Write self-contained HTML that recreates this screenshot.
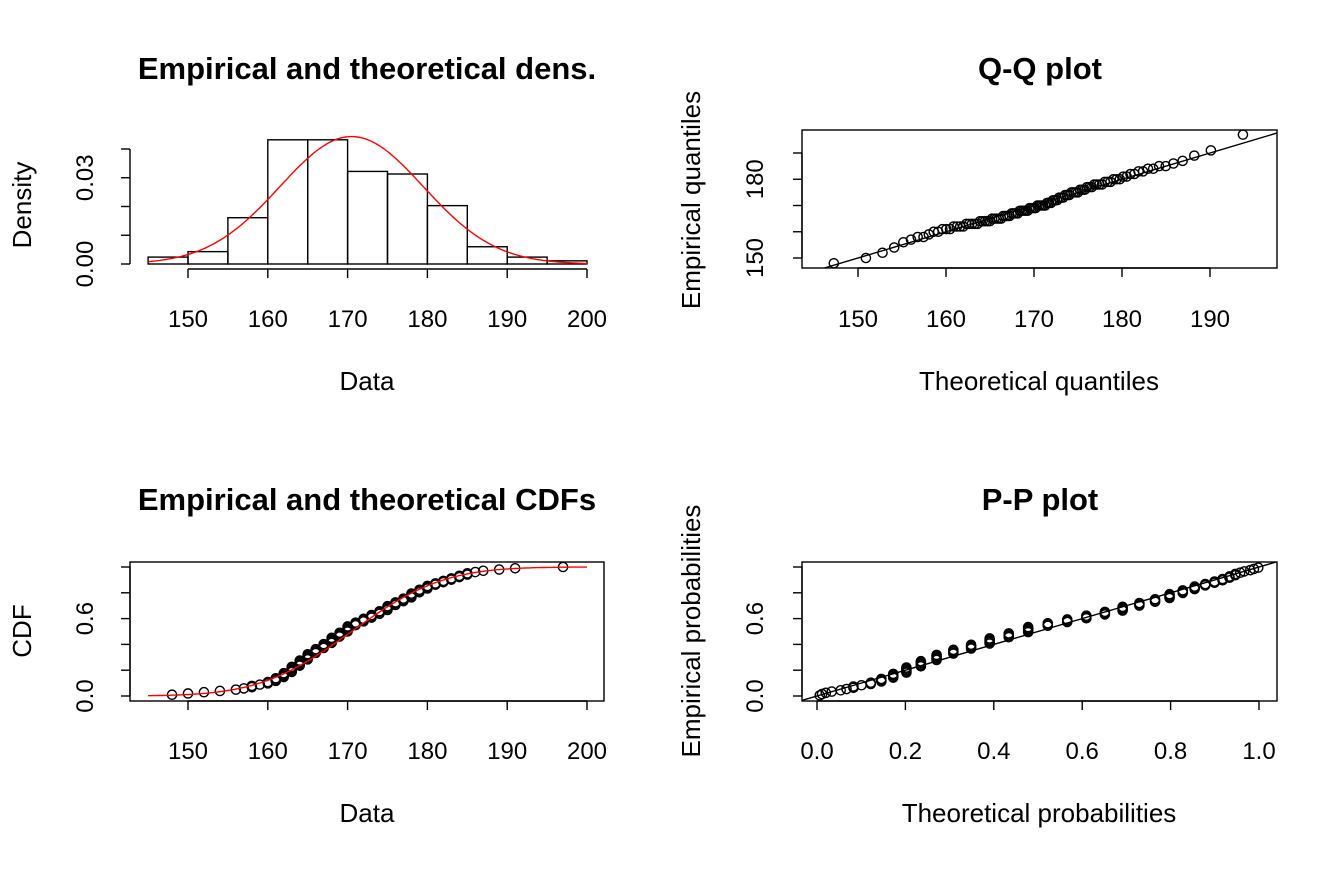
<!DOCTYPE html>
<html><head><meta charset="utf-8"><style>
body{margin:0;background:#fff;}
svg text{font-family:"Liberation Sans",Arial,sans-serif;fill:#000;}
.t{font-size:31px;font-weight:bold;text-anchor:middle;}
.l{font-size:26px;text-anchor:middle;}
.k{font-size:24px;text-anchor:middle;}
</style></head><body>
<svg id="c" width="1344" height="864" xmlns="http://www.w3.org/2000/svg"></svg>
<script>
const binEdges=[145,150,155,160,165,170,175,180,185,190,195,200];
const binDensity=[0.0024,0.0043,0.0161,0.0432,0.0432,0.0322,0.0313,0.0203,0.0060,0.0024,0.0011];
const sampleData=[148,150,152,154,156,157,158,158,159,160,160,
161,161,161,162,162,162,162,163,163,163,163,163,164,164,164,164,164,165,165,165,165,165,
166,166,166,166,167,167,167,167,168,168,168,168,168,169,169,169,169,170,170,170,170,170,
171,171,171,172,172,172,173,173,173,174,174,174,175,175,175,175,
176,176,176,177,177,177,178,178,178,178,179,179,179,180,180,180,
181,181,182,182,183,183,184,184,185,185,186,187,189,191,197];
const fitMean=[170.5];
const fitSd=[9.0];
const densTicks=[0,0.01,0.02,0.03,0.04];
const densTickLabels=["0.00","","","0.03",""];
const dataTicks=[150,160,170,180,190,200];
const qqTicks=[150,160,170,180,190];
const qqYLabels=["150","","","180",""];
const probTicks=[0,0.2,0.4,0.6,0.8,1.0];
const probYLabels=["0.0","","","0.6","",""];
const probXLabels=["0.0","0.2","0.4","0.6","0.8","1.0"];

const svg=document.getElementById('c');const NS='http://www.w3.org/2000/svg';
function el(tag,at,txt){const e=document.createElementNS(NS,tag);for(const k in at)e.setAttribute(k,at[k]);if(txt!==undefined)e.textContent=txt;svg.appendChild(e);return e;}
function lin(d0,d1,r0,r1){return v=>r0+(v-d0)/(d1-d0)*(r1-r0);}
function erf(x){const s=Math.sign(x);x=Math.abs(x);const t=1/(1+0.3275911*x);const y=1-(((((1.061405429*t-1.453152027)*t)+1.421413741)*t-0.284496736)*t+0.254829592)*t*Math.exp(-x*x);return s*y;}
function pnorm(x,m,s){return 0.5*(1+erf((x-m)/(s*Math.SQRT2)));}
function dnorm(x,m,s){return Math.exp(-0.5*((x-m)/s)**2)/(s*Math.sqrt(2*Math.PI));}
function qnorm(p,m,s){const a=[-39.69683028665376,220.9460984245205,-275.9285104469687,138.3577518672690,-30.66479806614716,2.506628277459239],b=[-54.47609879822406,161.5858368580409,-155.6989798598866,66.80131188771972,-13.28068155288572],c=[-0.007784894002430293,-0.3223964580411365,-2.400758277161838,-2.549732539343734,4.374664141464968,2.938163982698783],d=[0.007784695709041462,0.3224671290700398,2.445134137142996,3.754408661907416];let q,r,z;
if(p<0.02425){q=Math.sqrt(-2*Math.log(p));z=(((((c[0]*q+c[1])*q+c[2])*q+c[3])*q+c[4])*q+c[5])/((((d[0]*q+d[1])*q+d[2])*q+d[3])*q+1);}
else if(p>1-0.02425){q=Math.sqrt(-2*Math.log(1-p));z=-(((((c[0]*q+c[1])*q+c[2])*q+c[3])*q+c[4])*q+c[5])/((((d[0]*q+d[1])*q+d[2])*q+d[3])*q+1);}
else{q=p-0.5;r=q*q;z=(((((a[0]*r+a[1])*r+a[2])*r+a[3])*r+a[4])*r+a[5])*q/(((((b[0]*r+b[1])*r+b[2])*r+b[3])*r+b[4])*r+1);}
return m+s*z;}
const M=fitMean[0],S=fitSd[0],n=sampleData.length;
const ST={stroke:'#000','stroke-width':1.4,fill:'none'};

function xAxis(ticks,labels,sx,y,name,ly){el('line',Object.assign({x1:sx(ticks[0]),x2:sx(ticks[ticks.length-1]),y1:y,y2:y},ST));
 ticks.forEach((t,i)=>{el('line',Object.assign({x1:sx(t),x2:sx(t),y1:y,y2:y+9},ST));
 const tx=el('text',{x:sx(t),y:ly,class:'k'},labels[i]);});}
function yAxis(ticks,labels,sy,x,name,lx){el('line',Object.assign({x1:x,x2:x,y1:sy(ticks[0]),y2:sy(ticks[ticks.length-1])},ST));
 ticks.forEach((t,i)=>{el('line',Object.assign({x1:x,x2:x-9,y1:sy(t),y2:sy(t)},ST));
 if(labels[i]){const tx=el('text',{x:lx,y:sy(t),class:'k',transform:`rotate(-90 ${lx} ${sy(t)})`},labels[i]);}});}
function txt(x,y,s,cls,name,rot){const a={x:x,y:y,class:cls};if(rot)a.transform=`rotate(-90 ${x} ${y})`;const t=el('text',a,s);}
function circ(x,y,name){const c=el('circle',{cx:x,cy:y,r:4.6,stroke:'#000','stroke-width':1.4,fill:'none'});}

{const sx=lin(150,200,188,587),sy=lin(0,0.04,264,149);
 binDensity.forEach((d,i)=>{const r=el('rect',Object.assign({x:sx(binEdges[i]),y:sy(d),width:sx(binEdges[i+1])-sx(binEdges[i]),height:sy(0)-sy(d)},ST));});
 let p='';for(let v=145;v<=200;v+=0.25){p+=(p?'L':'M')+sx(v).toFixed(1)+','+sy(dnorm(v,M,S)).toFixed(1);}
 const pl=el('path',{d:p,stroke:'#f00','stroke-width':1.4,fill:'none'});
 xAxis(dataTicks,dataTicks.map(String),sx,269,'density-x-axis',327);
 yAxis(densTicks,densTickLabels,sy,130,'density-y-axis',93);
 txt(367,79,'Empirical and theoretical dens.','t','density-title');
 txt(367,390,'Data','l','density-x-title');txt(31,205,'Density','l','density-y-title',1);}
{const sx=lin(150,190,858,1210),sy=lin(150,190,258,153);
 const b=el('rect',Object.assign({x:802,y:130,width:475,height:138},ST));
 el('clipPath',{id:'qc'}).innerHTML='<rect x="802" y="130" width="475" height="138"/>';
 const ln=el('line',{x1:sx(140),y1:sy(140),x2:sx(205),y2:sy(205),stroke:'#000','stroke-width':1.4,'clip-path':'url(#qc)'});
 sampleData.forEach((v,i)=>circ(sx(qnorm((i+0.5)/n,M,S)),sy(v),'qq-point'));
 xAxis(qqTicks,qqTicks.map(String),sx,268,'qq-x-axis',327);
 yAxis(qqTicks,qqYLabels,sy,802,'qq-y-axis',763);
 txt(1040,79,'Q-Q plot','t','qq-title');
 txt(1039,390,'Theoretical quantiles','l','qq-x-title');txt(700,200,'Empirical quantiles','l','qq-y-title',1);}
{const sx=lin(150,200,188,587),sy=lin(0,1,696,567);
 const b=el('rect',Object.assign({x:130,y:562,width:474,height:139},ST));
 let p='';for(let v=145;v<=200;v+=0.25){p+=(p?'L':'M')+sx(v).toFixed(1)+','+sy(pnorm(v,M,S)).toFixed(1);}
 sampleData.forEach((v,i)=>circ(sx(v),sy((i+1)/n),'cdf-point'));
 const pl=el('path',{d:p,stroke:'#f00','stroke-width':1.4,fill:'none'});
 xAxis(dataTicks,dataTicks.map(String),sx,701,'cdf-x-axis',759);
 yAxis(probTicks,probYLabels,sy,130,'cdf-y-axis',93);
 txt(367,510,'Empirical and theoretical CDFs','t','cdf-title');
 txt(367,822,'Data','l','cdf-x-title');txt(31,631,'CDF','l','cdf-y-title',1);}
{const sx=lin(0,1,817,1259),sy=lin(0,1,696,567);
 const b=el('rect',Object.assign({x:802,y:562,width:475,height:139},ST));
 el('clipPath',{id:'pc'}).innerHTML='<rect x="802" y="562" width="475" height="139"/>';
 const ln=el('line',{x1:sx(-0.1),y1:sy(-0.1),x2:sx(1.1),y2:sy(1.1),stroke:'#000','stroke-width':1.4,'clip-path':'url(#pc)'});
 sampleData.forEach((v,i)=>circ(sx(pnorm(v,M,S)),sy((i+0.5)/n),'pp-point'));
 xAxis(probTicks,probXLabels,sx,701,'pp-x-axis',759);
 yAxis(probTicks,probYLabels,sy,802,'pp-y-axis',763);
 txt(1040,510,'P-P plot','t','pp-title');
 txt(1039,822,'Theoretical probabilities','l','pp-x-title');txt(700,631,'Empirical probabilities','l','pp-y-title',1);}
</script>
</body></html>
